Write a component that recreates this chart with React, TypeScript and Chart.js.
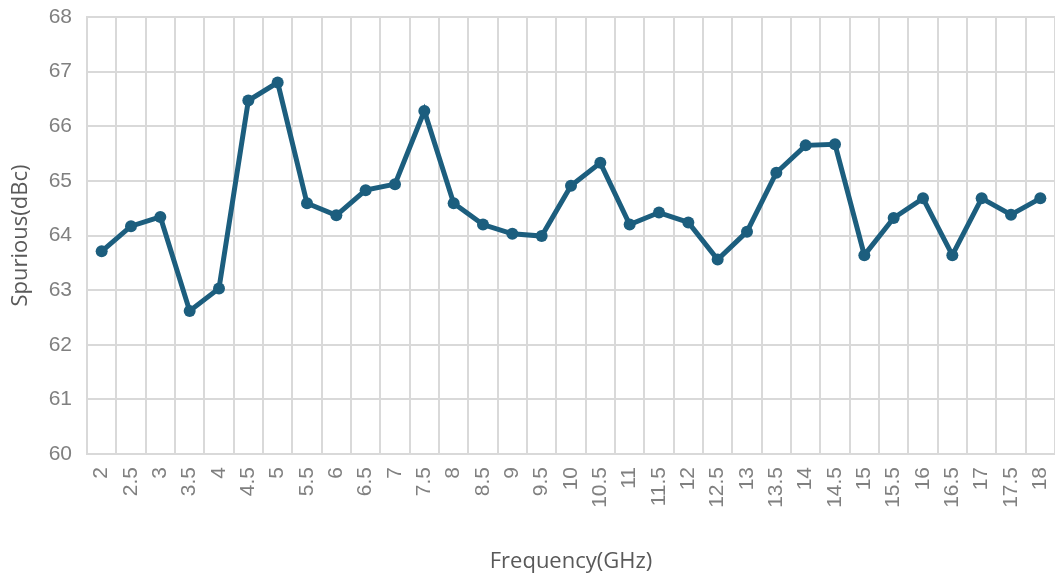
import React, { useEffect, useRef } from "react";
import { Chart, registerables } from "chart.js";

Chart.register(...registerables);

const frequencies: string[] = [
  "2", "2.5", "3", "3.5", "4", "4.5", "5", "5.5", "6", "6.5", "7", "7.5",
  "8", "8.5", "9", "9.5", "10", "10.5", "11", "11.5", "12", "12.5", "13",
  "13.5", "14", "14.5", "15", "15.5", "16", "16.5", "17", "17.5", "18",
];

const spurious: number[] = [
  63.71, 64.17, 64.34, 62.62, 63.03, 66.47, 66.8, 64.59, 64.37, 64.83, 64.94, 66.28,
  64.59, 64.2, 64.03, 63.99, 64.91, 65.33, 64.2, 64.42, 64.24, 63.56, 64.07,
  65.15, 65.65, 65.67, 63.64, 64.32, 64.68, 63.64, 64.68, 64.38, 64.68,
];

const yMin = 60;
const yMax = 68;
const yStep = 1;

const xTitle = "Frequency(GHz)";
const yTitle = "Spurious(dBc)";

const lineColor = "#1c5e7e";
const gridColor = "#d9d9d9";
const tickColor = "#808080";
const titleColor = "#595959";

export default function App() {
  const canvasRef = useRef<HTMLCanvasElement | null>(null);

  useEffect(() => {
    if (!canvasRef.current) return;
    const chart = new Chart(canvasRef.current, {
      type: "line",
      data: {
        labels: frequencies,
        datasets: [
          {
            data: spurious,
            borderColor: lineColor,
            backgroundColor: lineColor,
            borderWidth: 5,
            pointRadius: 6,
            pointBorderWidth: 0,
            pointBackgroundColor: lineColor,
            tension: 0,
            fill: false,
          },
        ],
      },
      options: {
        animation: false,
        responsive: true,
        maintainAspectRatio: false,
        layout: { autoPadding: false, padding: { top: 17, right: 0, bottom: 0, left: 0 } },
        plugins: {
          legend: { display: false },
          tooltip: { enabled: false },
        },
        scales: {
          x: {
            offset: true,
            grid: {
              offset: true,
              color: gridColor,
              lineWidth: 2,
              drawTicks: false,
            },
            border: { color: gridColor, width: 2 },
            ticks: {
              autoSkip: false,
              maxRotation: 90,
              minRotation: 90,
              padding: 13,
              color: tickColor,
              font: { family: "'Liberation Sans', Arial, sans-serif", size: 21 },
            },
            title: {
              display: true,
              text: xTitle,
              color: titleColor,
              font: { family: "'Open Sans', sans-serif", size: 22 },
              padding: { top: 0, bottom: 2 },
            },
            afterFit: (scale: any) => {
              scale.height = 123;
              scale.paddingLeft = 0;
              scale.paddingRight = 0;
              scale.paddingTop = 0;
              scale.paddingBottom = 0;
            },
          },
          y: {
            min: yMin,
            max: yMax,
            ticks: {
              stepSize: yStep,
              padding: 15,
              color: tickColor,
              font: { family: "'Liberation Sans', Arial, sans-serif", size: 21 },
            },
            grid: {
              color: gridColor,
              lineWidth: 2,
              drawTicks: false,
            },
            border: { color: gridColor, width: 2 },
            title: {
              display: true,
              text: yTitle,
              color: titleColor,
              font: { family: "'Open Sans', sans-serif", size: 22 },
              padding: { top: 8, bottom: 0 },
            },
            afterFit: (scale: any) => {
              scale.width = 87;
              scale.paddingLeft = 0;
              scale.paddingRight = 0;
              scale.paddingTop = 0;
              scale.paddingBottom = 0;
            },
          },
        },
      },
    });
    return () => chart.destroy();
  }, []);

  return (
    <div
      style={{
        position: "absolute",
        left: 0,
        top: 0,
        width: 1055,
        height: 577,
        background: "#ffffff",
      }}
    >
      <canvas ref={canvasRef} />
    </div>
  );
}
